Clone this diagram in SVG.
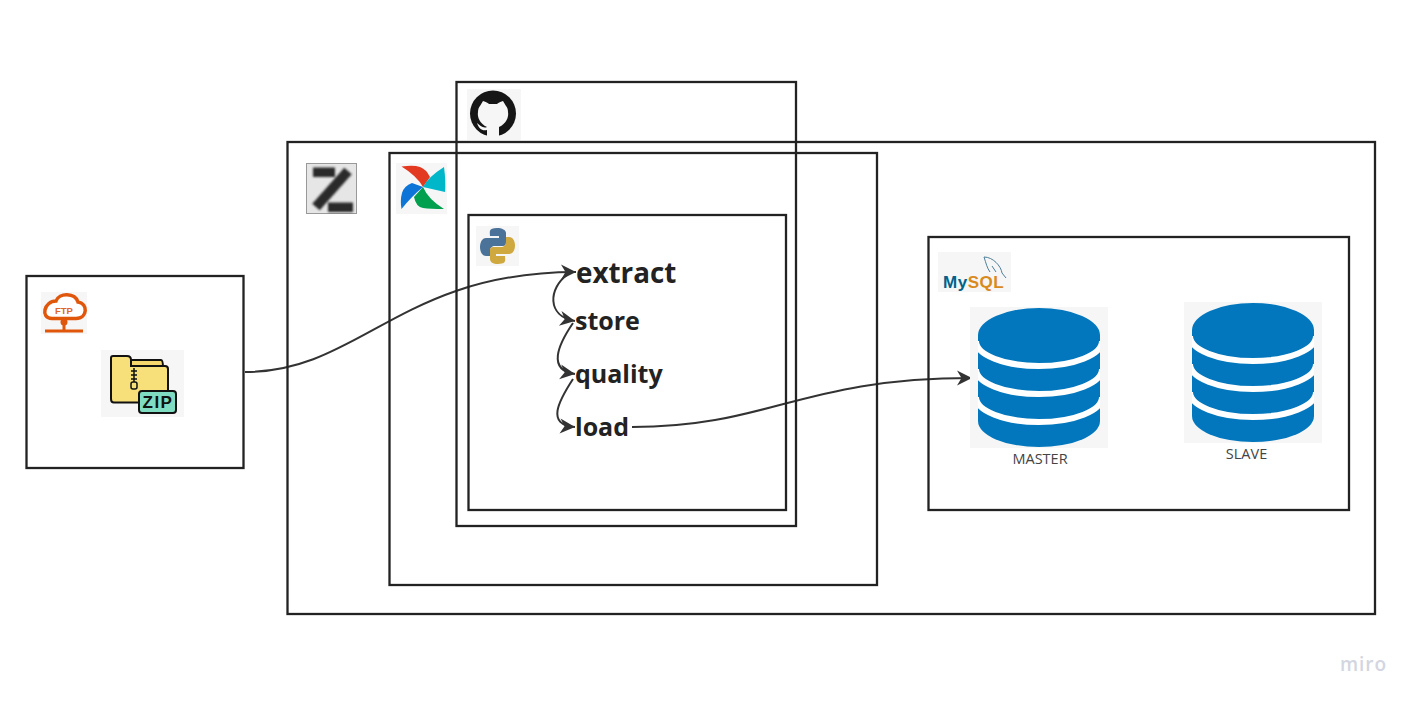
<svg xmlns="http://www.w3.org/2000/svg" width="1418" height="704" viewBox="0 0 1418 704">
<style>
.box{fill:none;stroke:#222;stroke-width:2.300}
.bg{fill:#f6f6f6}
.step{font-family:"Open Sans","Noto Sans",sans-serif;font-weight:700;fill:#222}
.lbl{font-family:"Open Sans","Noto Sans",sans-serif;font-size:14.500px;fill:#444}
.arr{fill:none;stroke:#333;stroke-width:2;marker-end:url(#a)}
.gap{fill:none;stroke:#fff;stroke-width:6}
</style>
<defs>
<marker id="a" markerUnits="userSpaceOnUse" markerWidth="20" markerHeight="20" refX="17" refY="10" orient="auto">
<path d="M2 2.500L17 10L2 17.500L6.500 10Z" fill="#333"/>
</marker>
<clipPath id="sil"><path d="M978 335V421A61 26 0 0 0 1100 421V335Z"/></clipPath>
<filter id="soft"><feGaussianBlur stdDeviation="0.800"/></filter>
<g id="db">
<rect x="970" y="307" width="138" height="141" class="bg"/>
<path d="M978 335V421A61 26 0 0 0 1100 421V335Z" fill="#0277bd"/>
<ellipse cx="1039" cy="335" rx="61" ry="27" fill="#0277bd"/>
<g clip-path="url(#sil)">
<path class="gap" d="M976 341A63 25 0 0 0 1102 341"/>
<path class="gap" d="M976 369A63 25 0 0 0 1102 369"/>
<path class="gap" d="M976 397A63 25 0 0 0 1102 397"/>
</g>
</g>
</defs>
<rect width="1418" height="704" fill="#fff"/>
<g id="connectors">
<path class="arr" d="M245 372C360 372 400 272 576 272"/>
<path class="arr" d="M567 275C549 288 546 316 575 321"/>
<path class="arr" d="M573 323C558 345 547 370 575 374"/>
<path class="arr" d="M573 379C558 402 546 425 575 427"/>
<path class="arr" d="M632 427C770 427 800 378 972 378"/>
</g>
<g id="node-ftp">
<rect class="box" x="26.500" y="276" width="217" height="192"/>
<rect x="41" y="292" width="46" height="42" class="bg"/>
<path d="M52 318.500H76C88 318.500 88 303 78 302C75 292.500 59 292.500 56 301C44 301 40 318.500 52 318.500Z" fill="#fff" stroke="#e0560b" stroke-width="3.500"/>
<text x="64" y="314" text-anchor="middle" font-family="Liberation Sans,sans-serif" font-size="9.500" font-weight="700" fill="#e0672a">FTP</text>
<path d="M64 319V331M45 331H83" fill="none" stroke="#e0560b" stroke-width="3"/>
<circle cx="64" cy="322" r="3.500" fill="#e0560b"/>
</g>
<g id="node-zip">
<rect x="101" y="350" width="83" height="67" class="bg"/>
<path d="M131 360H161Q163 360 163 368H131Z" fill="#f5d76e" stroke="#111" stroke-width="2"/>
<path d="M113 356H127Q131 356 131 360V366H165Q168 366 168 369V402.500H114Q111 402.500 111 399V358Q111 356 113 356Z" fill="#f7e07a" stroke="#111" stroke-width="2"/>
<path d="M134 368V386M131 371H137M131 375H137M131 379H137" stroke="#111" stroke-width="1.500"/>
<rect x="131" y="382" width="6" height="7" rx="2" fill="#f7e07a" stroke="#111" stroke-width="1.500"/>
<rect x="139" y="391" width="37" height="22" rx="3" fill="#7fdcc0" stroke="#111" stroke-width="2"/>
<text x="158" y="408" text-anchor="middle" font-family="Liberation Sans,sans-serif" font-size="17" font-weight="700" letter-spacing="1.500" fill="#111">ZIP</text>
</g>
<g id="node-zeppelin">
<rect class="box" x="287.500" y="142" width="1087.500" height="472"/>
<rect x="306.500" y="163.500" width="50" height="50" fill="#e6e6e6" stroke="#999"/>
<g filter="url(#soft)">
<path d="M313 167.500H335V177H313ZM328 202.500H353V212H328Z" fill="#2b2b2b"/>
<path d="M348 171L316 207" fill="none" stroke="#2b2b2b" stroke-width="10"/>
</g>
</g>
<g id="node-airflow">
<rect class="box" x="389.500" y="153" width="487.500" height="432"/>
<rect x="396" y="163" width="51" height="51" class="bg"/>
<path d="M401.500 166.500Q414 165 420 167T430 177L423 187Q417 176 401.500 166.500Z" fill="#e43921"/>
<path d="M444 167Q446 182 445 192L423 187Q428 177 444 167Z" fill="#00b7c9"/>
<path d="M444 209Q430 209 423 208T414 197L423 187Q428 199 444 209Z" fill="#00a04f"/>
<path d="M401.500 209Q400 200 402 193T412 183L423 187Q412 196 401.500 209Z" fill="#0d75d8"/>
</g>
<g id="node-github">
<rect class="box" x="456.500" y="82" width="339.500" height="444"/>
<rect x="467" y="89" width="54" height="51" class="bg"/>
<circle cx="493" cy="113.500" r="23" fill="#161616"/>
<path d="M487 137V130C482 131 479 129 477 123C480 125 483 129 487 127C480 124 477 117 478 112C478 109 479 107 480 106L483 101C486 102 488 103 489 104H497C498 103 500 102 503 101L506 106C507 107 508 109 508 112C509 117 506 124 499 127V137Z" fill="#f6f6f6"/>
</g>
<g id="node-python">
<rect class="box" x="468.500" y="215" width="317.500" height="295"/>
<rect x="476" y="226" width="43" height="40" class="bg"/>
<path d="M497 228C488 228 490 232 490 236H499V238H486C478 238 478 256 486 256H490V251C490 248 492 246 495 246H503C505 246 506 245 506 243V233C506 230 502 228 497 228Z" fill="#4b7399"/>
<path d="M498 264C507 264 505 260 505 256H496V254H509C517 254 517 237 509 237H506V241C506 245 504 247 501 247H493C491 247 490 248 490 250V259C490 262 493 264 498 264Z" fill="#cfa93f"/>
</g>
<g id="node-steps">
<text class="step" x="576" y="283" font-size="27.800">extract</text>
<text class="step" x="575" y="330" font-size="25">store</text>
<text class="step" x="575" y="383" font-size="25">quality</text>
<text class="step" x="575" y="436" font-size="25">load</text>
</g>
<g id="node-mysql">
<rect class="box" x="928.500" y="237" width="420.500" height="273"/>
<rect x="938" y="252" width="73" height="40" class="bg"/>
<text x="943" y="288" font-family="Liberation Sans,sans-serif" font-size="17" font-weight="700" letter-spacing="0.500" fill="#00618a">My<tspan fill="#d98a1c">SQL</tspan></text>
<path d="M984 257C993 257 1001 266 1002 273L1006 278M984 257C986 263 987 268 990 272M992 266L996 272" fill="none" stroke="#4d7f9a" stroke-width="1"/>
</g>
<g id="node-master">
<use href="#db"/>
<text class="lbl" x="1040" y="464" text-anchor="middle">MASTER</text>
</g>
<g id="node-slave">
<use href="#db" x="214" y="-5"/>
<text class="lbl" x="1246.500" y="459" text-anchor="middle">SLAVE</text>
</g>
<text x="1363.500" y="671" text-anchor="middle" font-family="Open Sans,sans-serif" font-size="19" font-weight="600" letter-spacing="1" fill="#d3d5e0">miro</text>
</svg>
